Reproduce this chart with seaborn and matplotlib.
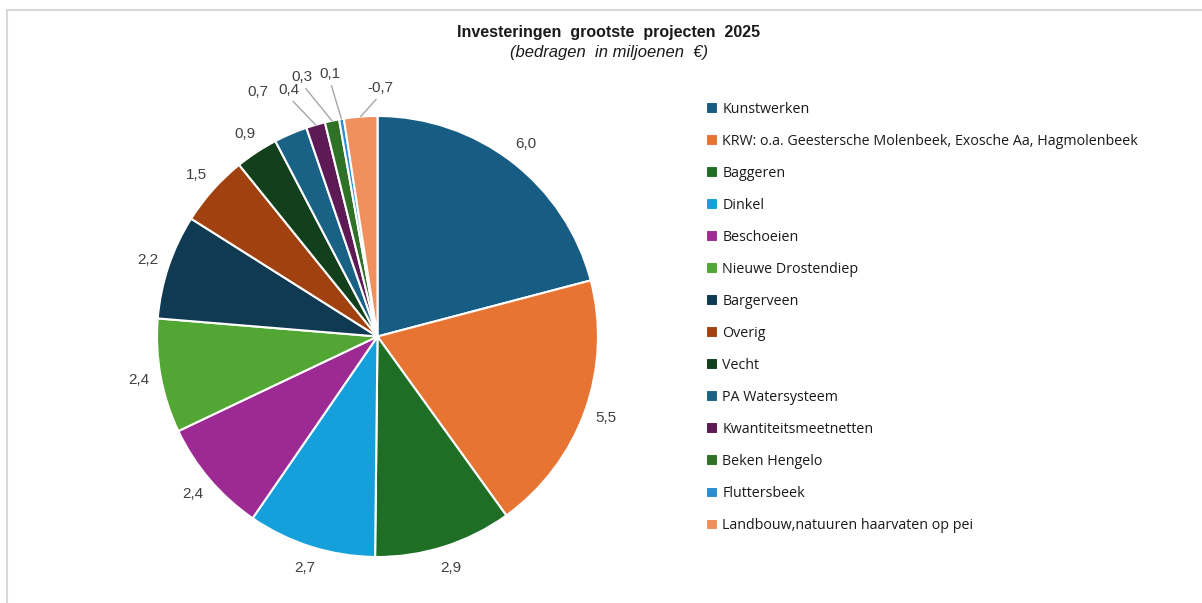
import numpy as np
import matplotlib
matplotlib.use("Agg")
import matplotlib.pyplot as plt
import seaborn as sns
from matplotlib.patches import Rectangle

# --- DATA ---
projecten = [
    "Kunstwerken",
    "KRW: o.a. Geestersche Molenbeek, Exosche Aa, Hagmolenbeek",
    "Baggeren",
    "Dinkel",
    "Beschoeien",
    "Nieuwe Drostendiep",
    "Bargerveen",
    "Overig",
    "Vecht",
    "PA Watersysteem",
    "Kwantiteitsmeetnetten",
    "Beken Hengelo",
    "Fluttersbeek",
    "Landbouw,natuuren haarvaten op pei",
]
bedragen = [6.0, 5.5, 2.9, 2.7, 2.4, 2.4, 2.2, 1.5, 0.9, 0.7, 0.4, 0.3, 0.1, -0.7]
kleuren = [
    "#175c83", "#e87434", "#1e6e26", "#159fdb", "#9c2a92", "#52a634", "#0f3a52",
    "#a0410f", "#123f1c", "#1a6186", "#5d1a55", "#2f7126", "#2b8dd0", "#f0905d",
]

# label positions (pixel) for the small slices that get moved
label_px = {
    9: (258, 92),
    10: (289, 90),
    11: (302, 77),
    12: (330, 74),
    13: (380, 88),
}
met_lijn = [10, 11, 12, 13]

sns.set_theme(style="white")
plt.rcParams['font.family'] = ['Liberation Sans', 'DejaVu Sans']

W, H = 1202, 603
CX, CY, R = 377.5, 336.5, 220.5

fig = plt.figure(figsize=(W / 100, H / 100), dpi=100)
fig.patch.set_facecolor("white")

ax = fig.add_axes([(CX - R) / W, (H - CY - R) / H, 2 * R / W, 2 * R / H])
wedges, _ = ax.pie(
    [abs(b) for b in bedragen],
    colors=kleuren,
    startangle=90,
    counterclock=False,
    radius=1,
    wedgeprops=dict(edgecolor="white", linewidth=1.5),
)
ax.set_xlim(-1, 1)
ax.set_ylim(-1, 1)
ax.axis("off")


def px2data(px, py):
    return ((px - CX) / R, (CY - py) / R)


for i, (w, b) in enumerate(zip(wedges, bedragen)):
    tekst = f"{b:.1f}".replace(".", ",")
    hoek = np.deg2rad((w.theta1 + w.theta2) / 2)
    rand = (np.cos(hoek), np.sin(hoek))
    if i in label_px:
        pos = px2data(*label_px[i])
    else:
        pos = (1.1 * np.cos(hoek), 1.1 * np.sin(hoek))
    if i in met_lijn:
        ax.annotate(tekst, xy=rand, xytext=pos, ha="center", va="center",
                    fontsize=11, color="#404040", annotation_clip=False,
                    arrowprops=dict(arrowstyle="-", color="#a6a6a6", lw=1,
                                    shrinkA=1, shrinkB=0, relpos=(0.5, 0)))
    else:
        ax.text(pos[0], pos[1], tekst, ha="center", va="center",
                fontsize=11, color="#404040")

# titel
fig.text(609 / W, 1 - 33 / H, "Investeringen  grootste  projecten  2025",
         ha="center", va="center", fontsize=11.5, fontweight="bold", color="#1a1a1a")
fig.text(609 / W, 1 - 52 / H, "(bedragen  in miljoenen  €)",
         ha="center", va="center", fontsize=12, fontstyle="italic", color="#1a1a1a")

# legenda
leg = fig.legend(
    wedges, projecten,
    loc="upper left",
    bbox_to_anchor=(693 / W, 1 - 89 / H),
    frameon=False,
    handlelength=0.85, handleheight=0.85, handletextpad=0.3,
    labelspacing=1.19,
    prop={"family": "Open Sans", "size": 10.3},
)
for t in leg.get_texts():
    t.set_color("#1a1a1a")

# grijze rand
fig.patches.append(Rectangle((7 / W, -0.1), 1.2, 1 - 10 / H + 0.1,
                             transform=fig.transFigure, fill=False,
                             edgecolor="#d9d9d9", lw=1.5))

fig.savefig("out.png", dpi=100)
